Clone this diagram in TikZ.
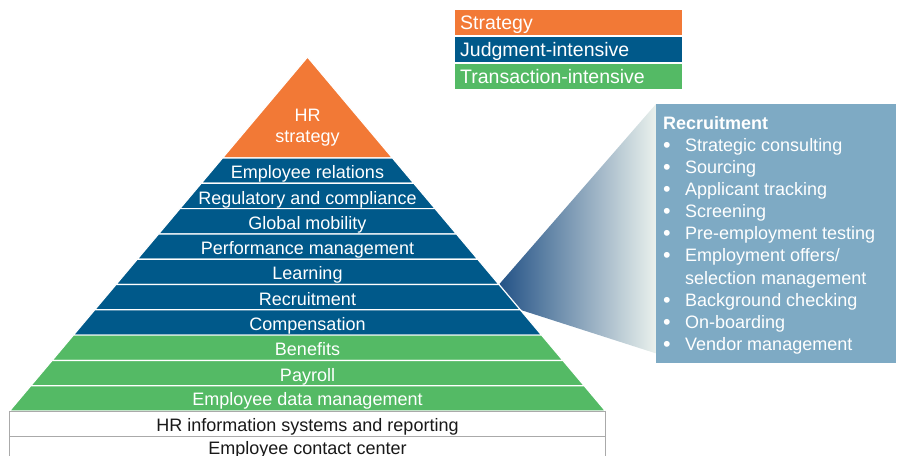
\documentclass[tikz,border=0pt]{standalone}
\usepackage{fontspec}
\usepackage{graphicx}
\setmainfont{Liberation Sans}
\usetikzlibrary{calc}
\pgfdeclarelayer{bg}
\pgfsetlayers{bg,main}
\definecolor{hrorange}{RGB}{242,121,54}
\definecolor{hrblue}{RGB}{0,89,138}
\definecolor{hrgreen}{RGB}{84,186,101}
\definecolor{hrcall}{RGB}{126,170,196}
\definecolor{hrwedge}{RGB}{35,82,134}
\definecolor{hrpale}{RGB}{234,241,237}
\definecolor{hrgray}{RGB}{170,170,170}
\definecolor{hrtext}{RGB}{25,25,25}
\newcommand{\hrbul}{\makebox[22pt][l]{\raisebox{-1pt}{\scalebox{1.2}{\textbullet}}}}
\tikzset{
        band/.style={draw=white, line width=1.2pt},
        lvl/.style={font=\fontsize{18}{22}\selectfont, text=white, inner sep=0pt, text height=13.1pt, text depth=0pt},
        legend/.style={anchor=north west, minimum width=227pt, minimum height=25.3pt, text width=217pt, inner xsep=5pt, inner ysep=0pt, align=left, text=white, font=\fontsize{19.5}{22}\selectfont, text height=14.2pt, text depth=0pt},
}

\begin{document}
\begin{tikzpicture}[x=1pt, y=-1pt]
        \useasboundingbox (0,0) rectangle (901,455);
        \coordinate (top) at (307.5,57);
        \coordinate (l0) at (222.5,158); \coordinate (r0) at (392.5,158);
        \coordinate (l1) at (201.2,183.3); \coordinate (r1) at (413.8,183.3);
        \coordinate (l2) at (179.9,208.6); \coordinate (r2) at (435.1,208.6);
        \coordinate (l3) at (158.6,233.9); \coordinate (r3) at (456.4,233.9);
        \coordinate (l4) at (137.3,259.2); \coordinate (r4) at (477.7,259.2);
        \coordinate (l5) at (116.0,284.5); \coordinate (r5) at (499.0,284.5);
        \coordinate (l6) at (94.7,309.8); \coordinate (r6) at (520.3,309.8);
        \coordinate (l7) at (73.4,335.1); \coordinate (r7) at (541.6,335.1);
        \coordinate (l8) at (52.1,360.4); \coordinate (r8) at (562.9,360.4);
        \coordinate (l9) at (30.8,385.7); \coordinate (r9) at (584.2,385.7);
        \coordinate (l10) at (9.5,411); \coordinate (r10) at (605.5,411);
        \path[band, fill=hrorange] (top) -- (r0) -- (l0) -- cycle;
        \path[band, fill=hrblue] (l0) -- (r0) -- (r1) -- (l1) -- cycle;
        \path[band, fill=hrblue] (l1) -- (r1) -- (r2) -- (l2) -- cycle;
        \path[band, fill=hrblue] (l2) -- (r2) -- (r3) -- (l3) -- cycle;
        \path[band, fill=hrblue] (l3) -- (r3) -- (r4) -- (l4) -- cycle;
        \path[band, fill=hrblue] (l4) -- (r4) -- (r5) -- (l5) -- cycle;
        \path[band, fill=hrblue] (l5) -- (r5) -- (r6) -- (l6) -- cycle;
        \path[band, fill=hrblue] (l6) -- (r6) -- (r7) -- (l7) -- cycle;
        \path[band, fill=hrgreen] (l7) -- (r7) -- (r8) -- (l8) -- cycle;
        \path[band, fill=hrgreen] (l8) -- (r8) -- (r9) -- (l9) -- cycle;
        \path[band, fill=hrgreen] (l9) -- (r9) -- (r10) -- (l10) -- cycle;
        \draw[hrgray, fill=white] (9.5,411) rectangle (605.5,436);
        \draw[hrgray, fill=white] (9.5,436) rectangle (605.5,461);
        \node (b0) [font=\fontsize{18}{21}\selectfont, text=white, inner sep=0pt, align=center] at (307.5,127.5) {HR\\strategy};
        \node (b1) [lvl] at (307.5,172.2) {Employee relations};
        \node (b2) [lvl] at (307.5,197.5) {Regulatory and compliance};
        \node (b3) [lvl] at (307.5,222.8) {Global mobility};
        \node (b4) [lvl] at (307.5,248.1) {Performance management};
        \node (b5) [lvl] at (307.5,273.4) {Learning};
        \node (b6) [lvl] at (307.5,298.7) {Recruitment};
        \node (b7) [lvl] at (307.5,324.0) {Compensation};
        \node (b8) [lvl] at (307.5,349.3) {Benefits};
        \node (b9) [lvl] at (307.5,374.6) {Payroll};
        \node (b10) [lvl] at (307.5,399.4) {Employee data management};
        \node (b11) [lvl, text=hrtext] at (307.5,424.5) {HR information systems and reporting};
        \node (b12) [lvl, text=hrtext] at (307.5,447.8) {Employee contact center};
        \node (k0) [legend, fill=hrorange] at (455,9.3) {Strategy};
        \node (k1) [legend, fill=hrblue] at (455,36.3) {Judgment-intensive};
        \node (k2) [legend, fill=hrgreen] at (455,63.3) {Transaction-intensive};
        \node (c0) [anchor=north west, fill=hrcall, minimum width=240pt, minimum height=259pt, inner sep=0pt] at (656,104) {};
        \node (c1) [anchor=north west, inner sep=0pt, align=left, text=white, font=\fontsize{18}{22.07}\selectfont] at (663,116.3) {\textbf{Recruitment}\\
\hrbul Strategic consulting\\
\hrbul Sourcing\\
\hrbul Applicant tracking\\
\hrbul Screening\\
\hrbul Pre-employment testing\\
\hrbul Employment offers/\\
\hspace*{22pt}selection management\\
\hrbul Background checking\\
\hrbul On-boarding\\
\hrbul Vendor management};
        \begin{pgfonlayer}{bg}
                \shade[left color=hrwedge, right color=hrpale] (r5) -- (c0.north west) -- ($(c0.south west)+(0,-10)$) -- (r6) -- cycle;
        \end{pgfonlayer}
\end{tikzpicture}
\end{document}
